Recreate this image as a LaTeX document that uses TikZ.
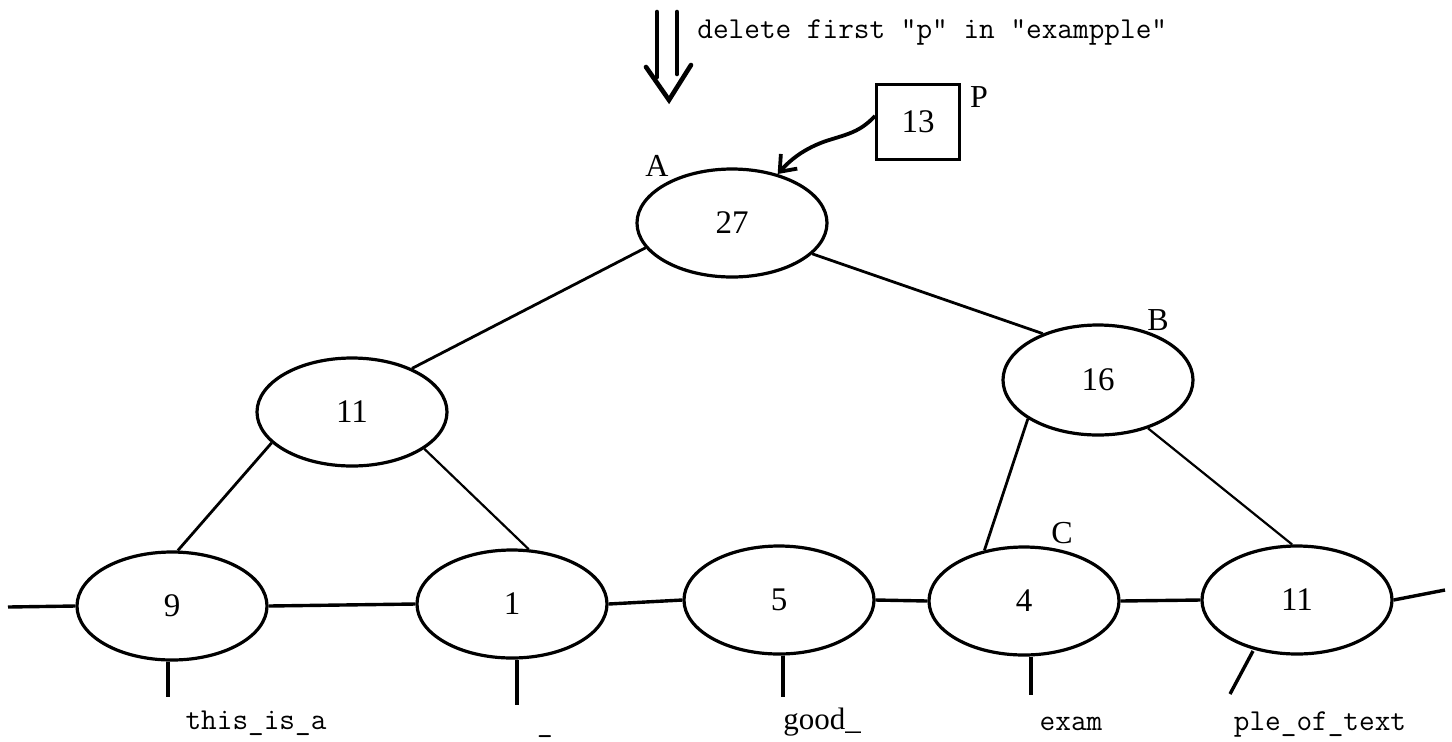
\documentclass[tikz,border=0pt]{standalone}
\usepackage{fontspec}
\setmainfont{Liberation Serif}
\usetikzlibrary{shapes.geometric,arrows.meta}

\begin{document}
\begin{tikzpicture}[x=0.5pt,y=-0.5pt,
  seg/.style={ellipse,draw,line width=1.6pt,minimum width=95pt,minimum height=54pt,
    inner sep=0pt,font=\fontsize{16.5}{18}\selectfont},
  tag/.style={font=\fontsize{16}{18}\selectfont,inner sep=0pt},
  str/.style={font=\ttfamily\fontsize{15.2}{17}\selectfont,inner sep=0pt,anchor=base},
  rmstr/.style={font=\fontsize{15.5}{17}\selectfont,inner sep=0pt,anchor=base},
  link/.style={line width=1.4pt},
  chain/.style={line width=1.7pt},
  stub/.style={line width=1.7pt},
  ptrbox/.style={draw,line width=1.5pt,minimum width=41.5pt,minimum height=37.5pt,
    inner sep=0pt,font=\fontsize{16.5}{18}\selectfont},
  ptrarrow/.style={line width=1.9pt,-{Straight Barb[length=7pt,width=11pt,line width=1.9pt]}},
  bigarrow/.style={line width=2.3pt,line cap=round}
]
\useasboundingbox (0,0) rectangle (1452,741);

% operation banner with the double arrow
\coordinate (s1a) at (657,12);
\coordinate (s1b) at (657,77);
\coordinate (s2a) at (677,12);
\coordinate (s2b) at (677,74);
\coordinate (hl) at (646,67);
\coordinate (ht) at (669,100);
\coordinate (hr) at (691,65);
\draw[bigarrow] (s1a) -- (s1b);
\draw[bigarrow] (s2a) -- (s2b);
\draw[bigarrow,line join=miter] (hl) -- (ht) -- (hr);
\node[str,anchor=base west] (op) at (697,38) {delete first "p" in "exampple"};

% tree nodes
\node[seg] (A) at (732,223) {27};
\node[seg] (L) at (352,412) {11};
\node[seg,minimum height=55pt] (B) at (1098,380) {16};
\node[seg] (n9) at (172,606) {9};
\node[seg] (n1) at (512,604) {1};
\node[seg] (n5) at (779,600) {5};
\node[seg] (C) at (1024,601) {4};
\node[seg] (n11) at (1297,600) {11};

% node letters
\node[tag] (la) at (657,166) {A};
\node[tag] (lb) at (1158,320) {B};
\node[tag] (lc) at (1062,533) {C};

% pointer box
\node[ptrbox] (p) at (918,122) {13};
\node[tag] (lp) at (979,97) {P};
\draw[ptrarrow] (p.172) .. controls (860,132) and (848,134) .. (826,141)
  .. controls (806,148) and (792,158) .. (A.47);

% tree edges
\draw[link] (A.-164) -- (L.36);
\draw[link] (A.-21) -- (B.140);
\draw[link] (L.-159) -- (n9.84);
\draw[link,line width=1.1pt] (L.-27) -- (n1.73);
\draw[link] (B.-151) -- (C.128);
\draw[link,line width=1.1pt] (B.-44) -- (n11.95);

% leaf chain
\coordinate (lend) at (8,607);
\coordinate (rend) at (1445,590);
\draw[chain] (lend) -- (n9.west);
\draw[chain] (n9.east) -- (n1.west);
\draw[chain] (n1.east) -- (n5.west);
\draw[chain] (n5.east) -- (C.west);
\draw[chain] (C.east) -- (n11.west);
\draw[chain] (n11.east) -- (rend);

% leaf text stubs
\coordinate (t9) at (168,697);
\coordinate (t1) at (517,705);
\coordinate (t5) at (783,697);
\coordinate (t4) at (1031,695);
\coordinate (t11) at (1230,694);
\coordinate (b11) at (1253,651);
\draw[stub] (n9.south -| t9) -- (t9);
\draw[stub] (n1.south -| t1) -- (t1);
\draw[stub] (n5.south -| t5) -- (t5);
\draw[stub] (C.south -| t4) -- (t4);
\draw[stub] (b11) -- (t11);

% leaf texts
\node[str] (x9) at (256,729) {this\_is\_a};
\node[str] (x1) at (545,731) {\_};
\node[rmstr] (x5) at (822,729) {good\_};
\node[str] (x4) at (1071,730) {exam};
\node[str] (x11) at (1320,730) {ple\_of\_text};
\end{tikzpicture}
\end{document}
